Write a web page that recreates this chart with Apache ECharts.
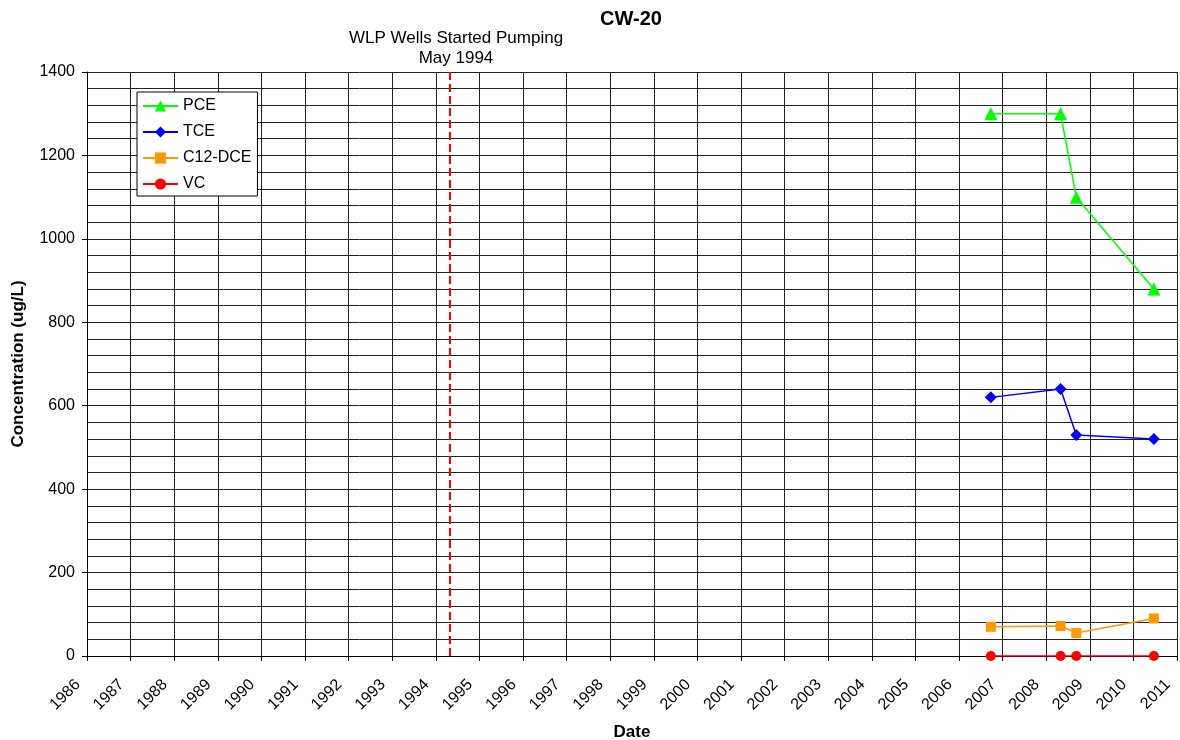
<!DOCTYPE html>
<html>
<head>
<meta charset="utf-8">
<script src="https://cdn.jsdelivr.net/npm/echarts@6/dist/echarts.min.js"></script>
<style>
html,body{margin:0;padding:0;background:#fff;}
#chart{width:1180px;height:740px;}
</style>
</head>
<body>
<div id="chart"></div>
<script>
// Sample dates as decimal years
var sampleDates = [2006.73, 2008.33, 2008.69, 2010.47];
var pce = [1300, 1300, 1100, 880];
var tce = [620, 640, 530, 520];
var dce = [70, 72, 55, 90];
var vc = [0, 0, 0, 0];
var pumpingStart = 1994.33;
var xMin = 1986, xMax = 2011;

function pairs(vals) { return sampleDates.map(function (d, i) { return [d, vals[i]]; }); }

var FONT = '"Liberation Sans", Arial, sans-serif';
var chart = echarts.init(document.getElementById('chart'), null, { renderer: 'canvas' });

function mkSeries(name, vals, color, symbol, size) {
  return {
    name: name, type: 'line', data: pairs(vals),
    symbol: symbol, symbolSize: size,
    lineStyle: { color: color, width: 1.5 },
    itemStyle: { color: color },
    z: 5, animation: false
  };
}

var series = [
  mkSeries('PCE', pce, '#00FF00', 'triangle', 13),
  mkSeries('TCE', tce, '#0000FF', 'diamond', 12),
  mkSeries('C12-DCE', dce, '#FF9900', 'rect', 10),
  mkSeries('VC', vc, '#FF0000', 'circle', 10)
];
series[0].markLine = {
  silent: true, symbol: 'none', animation: false,
  lineStyle: { color: '#FF0000', type: [8, 4], width: 2 },
  label: { show: false },
  data: [{ xAxis: pumpingStart }]
};

chart.setOption({
  animation: false,
  backgroundColor: '#fff',
  textStyle: { fontFamily: FONT },
  title: {
    text: 'CW-20', left: 626, top: 4, textAlign: 'center',
    textStyle: { fontFamily: FONT, fontSize: 20, fontWeight: 'bold', color: '#000' }
  },
  graphic: [
    { type: 'text', x: 456, y: 28, style: { text: 'WLP Wells Started Pumping\nMay 1994', font: '17px ' + FONT, fill: '#000', textAlign: 'center', lineHeight: 20 } }
  ],
  legend: {
    orient: 'vertical', left: 137, top: 92,
    backgroundColor: '#fff', borderColor: '#000', borderWidth: 1,
    padding: [6, 6, 4, 5],
    itemWidth: 35, itemHeight: 14, itemGap: 10,
    textStyle: { fontFamily: FONT, fontSize: 16, color: '#000', lineHeight: 16 },
    data: ['PCE', 'TCE', 'C12-DCE', 'VC']
  },
  grid: { left: 87, right: 3, top: 72, bottom: 84, containLabel: false, outerBoundsMode: 'none' },
  xAxis: {
    type: 'value', min: xMin, max: xMax, interval: 1,
    name: 'Date', nameLocation: 'middle', nameGap: 68,
    nameTextStyle: { fontFamily: FONT, fontSize: 17, fontWeight: 'bold', color: '#000' },
    axisLine: { show: true, lineStyle: { color: '#000', width: 1 } },
    axisTick: { show: true, length: 5, inside: false, lineStyle: { color: '#000' } },
    axisLabel: { rotate: 45, fontFamily: FONT, fontSize: 16, color: '#000', margin: 17, padding: [0, 13, 0, 0], formatter: function (v) { return String(v); } },
    splitLine: { show: true, lineStyle: { color: '#222', width: 1 } }
  },
  yAxis: {
    type: 'value', min: 0, max: 1400, interval: 200,
    name: 'Concentration (ug/L)', nameLocation: 'middle', nameGap: 60,
    nameTextStyle: { fontFamily: FONT, fontSize: 17, fontWeight: 'bold', color: '#000' },
    axisLine: { show: true, lineStyle: { color: '#000', width: 1 } },
    axisTick: { show: true, length: 5, lineStyle: { color: '#000' } },
    axisLabel: { fontFamily: FONT, fontSize: 16, color: '#000', margin: 12, formatter: function (v) { return String(v); } },
    splitLine: { show: true, lineStyle: { color: '#222', width: 1 } },
    minorTick: { show: false, splitNumber: 5 },
    minorSplitLine: { show: true, lineStyle: { color: '#222', width: 1 } }
  },
  series: series
});
</script>
</body>
</html>
